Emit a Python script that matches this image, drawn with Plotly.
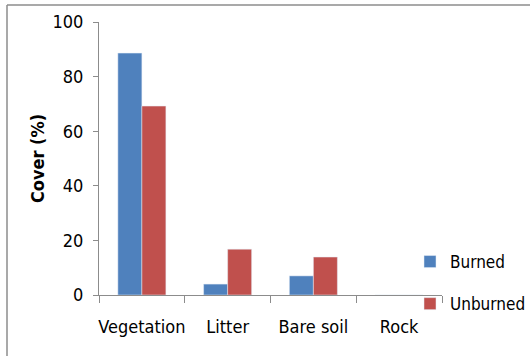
import plotly.graph_objects as go

# Ground cover by category for burned vs unburned plots
categories = ["Vegetation", "Litter", "Bare soil", "Rock"]
burned = [88.6, 4.0, 7.0, 0.0]
unburned = [69.2, 16.8, 13.9, 0.0]
y_ticks = [0, 20, 40, 60, 80, 100]

W, H = 530, 356
L, R, T, B = 99, 88, 22, 61
pw, ph = W - L - R, H - T - B


def px_x(x):
    return (x - L) / pw


def px_y(y):
    return (H - B - y) / ph


font_num = "Liberation Sans Narrow, DejaVu Sans Condensed, sans-serif"
font_cat = "DejaVu Sans Condensed, sans-serif"

fig = go.Figure()
fig.add_bar(x=categories, y=burned, name="Burned", marker_color="#4F81BD",
            legendgroup="b")
fig.add_bar(x=categories, y=unburned, name="Unburned", marker_color="#C0504D",
            legendgroup="u")

fig.update_layout(
    width=W, height=H,
    margin=dict(l=L, r=R, t=T, b=B, autoexpand=False),
    paper_bgcolor="white", plot_bgcolor="white",
    barmode="group", bargap=0.44, bargroupgap=0,
    font=dict(family=font_cat, size=17, color="black"),
    showlegend=True,
    legend=dict(
        x=px_x(410), y=px_y(244), xanchor="left", yanchor="top",
        bgcolor="rgba(255,255,255,0)", font=dict(size=17, family=font_cat),
        tracegroupgap=17, itemwidth=30, traceorder="grouped",
    ),
    xaxis=dict(
        showline=True, linecolor="#8c8c8c", linewidth=1,
        ticks="outside", ticklen=7, tickcolor="#8c8c8c", tickson="boundaries",
        tickangle=0, ticklabelstandoff=15,
        tickfont=dict(size=18, family=font_cat), showgrid=False,
    ),
    yaxis=dict(
        range=[0, 100], tickvals=y_ticks,
        showline=True, linecolor="#8c8c8c", linewidth=1,
        ticks="outside", ticklen=5, tickcolor="#8c8c8c", ticklabelstandoff=6,
        tickfont=dict(size=18, family=font_num), showgrid=False,
        title=dict(text="<b>Cover (%)</b>", font=dict(size=18, family=font_cat), standoff=3),
    ),
    shapes=[
        dict(type="line", xref="paper", yref="paper",
             x0=px_x(7), x1=px_x(531), y0=px_y(5), y1=px_y(5),
             line=dict(color="#8c8c8c", width=1.5)),
        dict(type="line", xref="paper", yref="paper",
             x0=px_x(7), x1=px_x(7), y0=px_y(5), y1=px_y(357),
             line=dict(color="#8c8c8c", width=1.5)),
    ],
)

fig.write_html("out.html")
